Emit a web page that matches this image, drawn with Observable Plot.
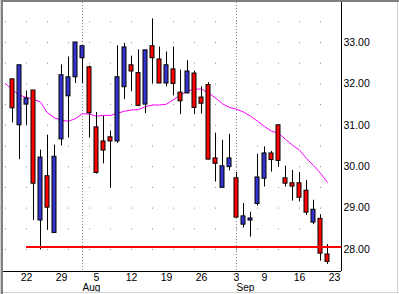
<!DOCTYPE html>
<html><head><meta charset="utf-8">
<script src="https://cdn.jsdelivr.net/npm/d3@7"></script>
<script src="https://cdn.jsdelivr.net/npm/@observablehq/plot@0.6"></script>
<style>
html,body{margin:0;padding:0;background:#fff;}
#wrap{position:relative;width:399px;height:294px;overflow:hidden;background:#fff;}
#wrap svg{display:block;position:absolute;left:0;top:0;}
#edge{position:absolute;left:0;top:0;width:399px;height:294px;pointer-events:none;z-index:2;
box-shadow: inset 1px 0 0 #d4d0c8, inset 3px 0 0 #808080, inset 0 2px 0 #808080, inset 0 -1px 0 #ffffff, inset 0 -2px 0 #d4d0c8, inset -1px 0 0 #ffffff, inset -2px 0 0 #d4d0c8;}
</style></head><body>
<div id="wrap"><div id="edge"></div></div>
<script>
// trading sessions (first = session before first candle, last = axis date without data)
const dates = ["2002-07-17","2002-07-18","2002-07-19","2002-07-22","2002-07-23","2002-07-24","2002-07-25","2002-07-26",
"2002-07-29","2002-07-30","2002-07-31","2002-08-01","2002-08-02","2002-08-05","2002-08-06","2002-08-07","2002-08-08","2002-08-09",
"2002-08-12","2002-08-13","2002-08-14","2002-08-15","2002-08-16","2002-08-19","2002-08-20","2002-08-21","2002-08-22","2002-08-23",
"2002-08-26","2002-08-27","2002-08-28","2002-08-29","2002-08-30","2002-09-03","2002-09-04","2002-09-05","2002-09-06",
"2002-09-09","2002-09-10","2002-09-11","2002-09-12","2002-09-13","2002-09-16","2002-09-17","2002-09-18","2002-09-19","2002-09-20","2002-09-23"];
const open  = [null,32.11,31.00,31.50,31.84,28.70,29.77,28.40,30.66,31.70,32.16,32.62,32.40,30.95,30.61,30.71,30.61,31.92,32.45,32.26,31.50,32.91,32.59,32.01,32.35,31.79,31.77,32.25,31.67,31.97,30.20,29.49,29.99,29.72,28.60,28.70,29.10,29.71,30.32,31.00,29.72,29.60,29.60,29.42,28.65,28.74,27.88,null];
const high  = [null,32.11,32.45,31.83,31.84,30.40,30.76,30.52,32.46,32.65,33.00,32.91,32.43,31.31,31.22,30.86,32.92,32.98,32.67,32.82,32.81,33.57,32.89,32.77,32.89,32.33,32.56,32.31,31.93,32.03,30.81,30.64,30.78,29.86,29.11,28.90,30.30,30.48,30.37,31.00,30.01,29.91,29.86,29.67,29.19,28.84,28.12,null];
const low   = [null,31.06,30.17,31.00,28.70,27.99,28.46,28.40,30.50,30.69,32.01,32.01,30.69,29.82,30.07,29.48,30.56,31.62,31.81,31.45,31.28,32.00,32.01,31.93,31.71,31.26,31.77,31.26,31.27,30.17,29.63,29.49,29.90,28.77,28.52,28.30,29.05,29.51,29.87,29.99,29.51,29.17,29.15,28.82,28.60,27.72,27.64,null];
const close = [null,31.41,32.45,31.65,29.59,30.22,29.01,30.24,32.21,32.16,33.00,32.91,31.29,29.85,30.39,30.61,32.16,32.88,32.30,31.47,32.81,32.62,32.01,32.45,32.00,31.58,32.30,31.42,31.52,30.17,30.07,30.01,30.20,28.77,28.80,28.75,29.74,30.32,30.16,30.14,29.59,29.52,29.25,28.89,28.96,27.90,27.70,null];
const ma    = [32.01,31.85,31.73,31.67,31.63,31.56,31.30,31.18,31.12,31.10,31.16,31.28,31.27,31.22,31.24,31.24,31.29,31.34,31.37,31.38,31.45,31.49,31.49,31.51,31.62,31.73,31.83,31.87,31.88,31.78,31.66,31.52,31.43,31.39,31.32,31.22,31.10,30.97,30.86,30.81,30.66,30.52,30.40,30.20,30.03,29.84,29.62,null];

const tickDates  = ["2002-07-22","2002-07-29","2002-08-05","2002-08-12","2002-08-19","2002-08-26","2002-09-03","2002-09-09","2002-09-16","2002-09-23"];
const tickLabels = ["22","29","5","12","19","26","3","9","16","23"];
const monthDates  = ["2002-08-01","2002-09-03"];
const monthLabels = ["Aug","Sep"];
const yTicks = [28,29,30,31,32,33];
const gridLevels = [28,28.5,29,29.5,30,30.5,31,31.5,32,32.5,33,33.5];
const supportLevel = 28.06;
const supportFrom = "2002-07-22";

const idx = new Map(dates.map((d,i)=>[d,i]));
const rows = dates.map((d,i)=>({i, o:open[i], h:high[i], l:low[i], c:close[i], ma:ma[i]}));
const candles = rows.filter(r=>r.o!=null);
const maRows = rows.filter(r=>r.ma!=null);
const tickIdx = tickDates.map(d=>idx.get(d));
const labelByIdx = new Map(tickIdx.map((k,j)=>[k,tickLabels[j]]));
const monthRows = monthDates.map((d,j)=>({i: idx.get(d), label: monthLabels[j]}));
const half = 2/7;
const xDomain = [-2/7, dates.length];
const yDomain = [27.4686, 33.9662];

const chart = Plot.plot({
  width: 399, height: 294,
  marginLeft: 3, marginRight: 58, marginTop: 2, marginBottom: 23,
  style: {fontFamily: "'Liberation Sans', Arial, sans-serif", fontSize: "10.5px", background: "transparent", color: "#000"},
  x: {type: "linear", domain: xDomain, axis: null, label: null},
  y: {type: "linear", domain: yDomain, axis: null, label: null},
  marks: [
    Plot.ruleY(gridLevels, {stroke: "#8c8c8c", strokeOpacity: 1, strokeDasharray: "1,20", strokeDashoffset: 19}),
    Plot.ruleX(monthRows, {x: "i", stroke: "#8c8c8c", strokeOpacity: 1, strokeDasharray: "1,2"}),
    Plot.line(maRows, {x: "i", y: "ma", stroke: "#ff00ff", strokeWidth: 1, clip: true}),
    Plot.ruleX(candles, {x: "i", y1: "l", y2: "h", stroke: "#000", strokeOpacity: 1}),
    Plot.rect(candles, {x1: d=>d.i-half, x2: d=>d.i+half, y1: "o", y2: "c",
      fill: d=> d.c>d.o ? "#3434cc" : "#ff0000", stroke: "#000", strokeWidth: 1}),
    Plot.ruleY([supportLevel], {x1: idx.get(supportFrom), x2: xDomain[1], stroke: "#ff0000", strokeWidth: 2, strokeOpacity: 1}),
    Plot.ruleX([xDomain[1]], {stroke: "#000", strokeOpacity: 1}),
    Plot.ruleY([yDomain[0]], {stroke: "#000", strokeOpacity: 1}),
    Plot.axisY(yTicks, {anchor: "right", tickSize: 0, tickPadding: 2, label: null, tickFormat: d=>d.toFixed(2)}),
    Plot.axisX(tickIdx, {anchor: "bottom", tickSize: 0, tickPadding: 2, label: null, tickFormat: d=>labelByIdx.get(d)}),
    Plot.text(monthRows, {x: "i", text: "label", frameAnchor: "bottom", textAnchor: "start", lineAnchor: "top", dy: 12.5, fontSize: 10, fill: "#000"})
  ]
});
document.getElementById("wrap").appendChild(chart);
</script>
</body></html>
